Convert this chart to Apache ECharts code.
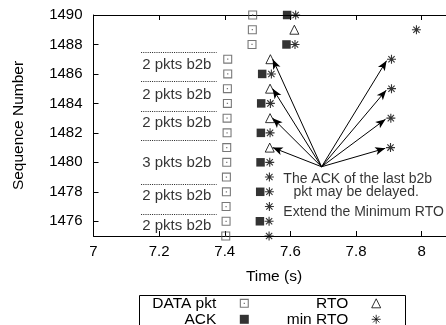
<!DOCTYPE html>
<html>
<head>
<meta charset="utf-8">
<script src="https://cdn.jsdelivr.net/npm/echarts@6/dist/echarts.min.js"></script>
<style>
html,body{margin:0;padding:0;background:#fff;}
#chart{width:446px;height:325px;}
</style>
</head>
<body>
<div id="chart"></div>
<script>
// ---- axis ticks ----
const xTicks = [7, 7.2, 7.4, 7.6, 7.8, 8];
const xTickLabels = ['7', '7.2', '7.4', '7.6', '7.8', '8'];
const yTicks = [1476, 1478, 1480, 1482, 1484, 1486, 1488, 1490];
const yTickLabels = ['1476', '1478', '1480', '1482', '1484', '1486', '1488', '1490'];

// ---- series: [time (s), sequence number] ----
const dataPkt = [
  [7.403, 1475], [7.404, 1476], [7.404, 1477], [7.405, 1478], [7.405, 1479],
  [7.406, 1480], [7.406, 1481], [7.407, 1482], [7.407, 1483], [7.408, 1484],
  [7.408, 1485], [7.409, 1486], [7.409, 1487],
  [7.483, 1488], [7.484, 1489], [7.485, 1490]
];
const ack = [
  [7.507, 1476], [7.508, 1478], [7.509, 1480], [7.510, 1482], [7.511, 1484],
  [7.514, 1486], [7.588, 1488], [7.590, 1490]
];
const rto = [
  [7.537, 1481], [7.538, 1483], [7.538, 1485], [7.539, 1487], [7.612, 1489]
];
const minRto = [
  [7.535, 1475], [7.535, 1476], [7.536, 1477], [7.536, 1478], [7.536, 1479],
  [7.537, 1480], [7.538, 1482], [7.539, 1484], [7.542, 1486],
  [7.614, 1488], [7.616, 1490],
  [7.905, 1481], [7.906, 1483], [7.908, 1485], [7.908, 1487],
  [7.984, 1489]
];

// ---- annotations ----
const arrowOrigin = [7.695, 1479.7];
const arrowTargets = [
  [7.546, 1481.0], [7.546, 1483.0], [7.546, 1485.0], [7.546, 1487.0],
  [7.889, 1480.95], [7.890, 1482.93], [7.892, 1484.9], [7.893, 1486.9]
];
const groupSeparators = [1487.5, 1485.5, 1483.5, 1481.5, 1478.5, 1476.5];
const separatorSpan = [7.145, 7.375];
const groupLabels = [
  [7.254, 1486.6, '2 pkts b2b'],
  [7.254, 1484.6, '2 pkts b2b'],
  [7.254, 1482.65, '2 pkts b2b'],
  [7.254, 1479.95, '3 pkts b2b'],
  [7.254, 1477.7, '2 pkts b2b'],
  [7.254, 1475.7, '2 pkts b2b']
];
const noteLines = [
  [7.577, 1478.87, 'The ACK of the last b2b'],
  [7.608, 1477.98, 'pkt may be delayed.'],
  [7.577, 1476.6, 'Extend the Minimum RTO']
];
const legendColumn1 = ['DATA pkt', 'ACK'];
const legendColumn2 = ['RTO', 'min RTO'];

const FONT = '"Liberation Sans", Arial, Helvetica, sans-serif';
const boxDotPath = 'path://M0,0H10V10H0Z M1.2,1.2V8.8H8.8V1.2Z M4.3,4.3H5.7V5.7H4.3Z';
const asteriskPath = 'path://M5,0L5,10M0,5L10,5M1.5,1.5L8.5,8.5M8.5,1.5L1.5,8.5';

const legendItemStyle = {
  'DATA pkt': {borderWidth: 0},
  'ACK': {borderWidth: 0},
  'RTO': {borderWidth: 1, borderColor: '#000'},
  'min RTO': {borderWidth: 1, borderColor: '#000'}
};

function makeLegend(name, right, top) {
  return {
    data: [{name: name, itemStyle: legendItemStyle[name]}],
    right: right, top: top,
    orient: 'horizontal', align: 'right', itemGap: 0,
    itemWidth: 9, itemHeight: 9, padding: 0,
    selectedMode: false,
    formatter: n => '{t|' + n + '}{s| }',
    textStyle: {
      fontFamily: FONT, fontSize: 15.5, color: '#000', lineHeight: 16,
      rich: {
        t: {fontFamily: FONT, fontSize: 15.5, color: '#000', lineHeight: 16},
        s: {fontFamily: FONT, fontSize: 15.5, width: 18.5, lineHeight: 16}
      }
    }
  };
}

const chart = echarts.init(document.getElementById('chart'), null, {renderer: 'canvas'});

const option = {
  animation: false,
  backgroundColor: '#fff',
  textStyle: {fontFamily: FONT},
  grid: {left: 93.5, top: 15, width: 361, height: 221, show: false,
    containLabel: false, outerBoundsMode: 'none'},
  xAxis: [{
    type: 'value', min: 7, max: 8.1, position: 'bottom',
    name: 'Time (s)', nameLocation: 'middle', nameGap: 33,
    nameTextStyle: {fontFamily: FONT, fontSize: 15.5, color: '#000'},
    axisLine: {show: true, lineStyle: {color: '#000', width: 1}},
    axisTick: {show: true, inside: true, length: 5, customValues: xTicks, lineStyle: {color: '#000'}},
    axisLabel: {show: true, customValues: xTicks, margin: 8, fontFamily: FONT, fontSize: 15, color: '#000',
      formatter: v => { const i = xTicks.findIndex(t => Math.abs(t - v) < 1e-6); return i >= 0 ? xTickLabels[i] : ''; }},
    splitLine: {show: false}
  }, {
    type: 'value', min: 7, max: 8.1, position: 'top',
    axisLine: {show: true, onZero: false, lineStyle: {color: '#000', width: 1}},
    axisTick: {show: true, inside: true, length: 5, customValues: xTicks, lineStyle: {color: '#000'}},
    axisLabel: {show: false},
    splitLine: {show: false}
  }],
  yAxis: [{
    type: 'value', min: 1475, max: 1490, position: 'left',
    name: 'Sequence Number', nameLocation: 'middle', nameGap: 67,
    nameTextStyle: {fontFamily: FONT, fontSize: 15.5, color: '#000'},
    axisLine: {show: true, onZero: false, lineStyle: {color: '#000', width: 1}},
    axisTick: {show: true, inside: true, length: 5, customValues: yTicks, lineStyle: {color: '#000'}},
    axisLabel: {show: true, customValues: yTicks, margin: 11, fontFamily: FONT, fontSize: 15, color: '#000',
      formatter: v => { const i = yTicks.indexOf(Math.round(v)); return i >= 0 ? yTickLabels[i] : ''; }},
    splitLine: {show: false}
  }],
  legend: [
    makeLegend(legendColumn1[0], 197.2, 295.3),
    makeLegend(legendColumn2[0], 64.8, 295.3),
    makeLegend(legendColumn1[1], 197.2, 311.3),
    makeLegend(legendColumn2[1], 64.8, 311.3)
  ],
  graphic: [{
    type: 'rect', silent: true,
    shape: {x: 139.5, y: 295.5, width: 266, height: 40},
    style: {fill: 'none', stroke: '#000', lineWidth: 1}
  }],
  series: [
    {
      name: 'separators', type: 'line', data: [], silent: true,
      markLine: {
        silent: true, symbol: ['none', 'none'], animation: false,
        label: {show: false},
        lineStyle: {color: '#222', width: 1, type: [1, 1.2]},
        data: groupSeparators.map(y => [{coord: [separatorSpan[0], y]}, {coord: [separatorSpan[1], y]}])
      }
    },
    {
      name: 'arrows', type: 'line', data: [], silent: true,
      markLine: {
        silent: true, symbol: ['none', 'arrow'], symbolSize: [6, 10], animation: false,
        label: {show: false},
        lineStyle: {color: '#000', width: 1, type: 'solid'},
        data: arrowTargets.map(t => [{coord: arrowOrigin}, {coord: t}])
      }
    },
    {
      name: 'DATA pkt', type: 'scatter', data: dataPkt, clip: false,
      symbol: boxDotPath, symbolSize: 9,
      itemStyle: {color: '#555', borderWidth: 0}
    },
    {
      name: 'ACK', type: 'scatter', data: ack, clip: false,
      symbol: 'rect', symbolSize: 8.5,
      itemStyle: {color: '#000', borderWidth: 0}
    },
    {
      name: 'RTO', type: 'scatter', data: rto, clip: false,
      symbol: 'triangle', symbolSize: 9,
      itemStyle: {color: 'rgba(0,0,0,0)', borderColor: '#000', borderWidth: 1}
    },
    {
      name: 'min RTO', type: 'scatter', data: minRto, clip: false,
      symbol: asteriskPath, symbolSize: 9,
      itemStyle: {color: 'rgba(0,0,0,0)', borderColor: '#000', borderWidth: 1.1}
    },
    {
      name: 'group labels', type: 'scatter', data: groupLabels, clip: false, silent: true,
      symbolSize: 1, itemStyle: {color: 'rgba(0,0,0,0)'},
      label: {show: true, position: 'inside', formatter: p => p.data[2],
        fontFamily: FONT, fontSize: 15, color: '#000'}
    },
    {
      name: 'notes', type: 'scatter', data: noteLines, clip: false, silent: true,
      symbolSize: 1, itemStyle: {color: 'rgba(0,0,0,0)'},
      label: {show: true, position: 'right', distance: 0, formatter: p => p.data[2],
        fontFamily: FONT, fontSize: 14, color: '#000'}
    }
  ]
};
chart.setOption(option);
</script>
</body>
</html>
